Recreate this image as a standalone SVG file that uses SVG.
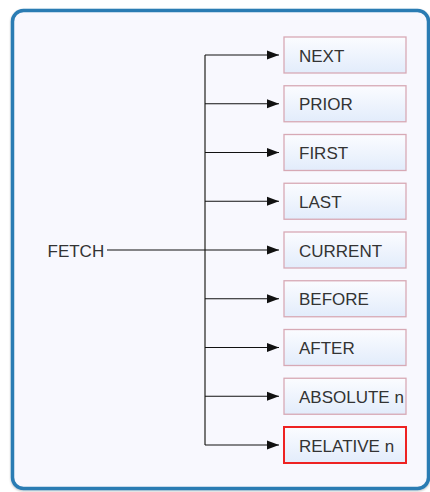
<svg xmlns="http://www.w3.org/2000/svg" width="430" height="492" viewBox="0 0 430 492">
  <style>
    .frame { fill: #f8f8fe; stroke: #2b7bb3; stroke-width: 3.5; }
    .box { fill: url(#boxFill); stroke: #d7a9b5; stroke-width: 1.3; }
    .box.sel { stroke: #ee2222; stroke-width: 2; }
    .lbl { font-family: "Liberation Sans", Arial, sans-serif; font-size: 17px; fill: #333333; }
    .trunk { stroke: #777777; stroke-width: 2; fill: none; }
    .branch { stroke: #111111; stroke-width: 1.2; fill: none; marker-end: url(#arrow); }
    .lead { stroke: #111111; stroke-width: 1.2; fill: none; }
  </style>
  <defs>
    <linearGradient id="boxFill" x1="0" y1="0" x2="0" y2="1">
      <stop offset="0" stop-color="#fbfcff"/>
      <stop offset="1" stop-color="#e2ecfb"/>
    </linearGradient>
    <marker id="arrow" viewBox="0 0 12 10" refX="12" refY="5" markerWidth="12" markerHeight="10" markerUnits="userSpaceOnUse" orient="auto">
      <path d="M0,0.5 L12,5 L0,9.5 Z" fill="#111111"/>
    </marker>
    <filter id="shadow" x="-5%" y="-5%" width="110%" height="110%">
      <feDropShadow dx="0" dy="1" stdDeviation="1" flood-color="#000" flood-opacity="0.25"/>
    </filter>
  </defs>

  <rect class="frame" x="12.5" y="10.5" width="416" height="478" rx="11" filter="url(#shadow)"/>

  <g id="connectors">
    <line class="trunk" x1="205" y1="55" x2="205" y2="445"/>
    <line class="lead" x1="107" y1="250" x2="205" y2="250"/>
    <line class="branch" x1="205" y1="55" x2="279" y2="55"/>
    <line class="branch" x1="205" y1="103.75" x2="279" y2="103.75"/>
    <line class="branch" x1="205" y1="152.5" x2="279" y2="152.5"/>
    <line class="branch" x1="205" y1="201.25" x2="279" y2="201.25"/>
    <line class="branch" x1="205" y1="250" x2="279" y2="250"/>
    <line class="branch" x1="205" y1="298.75" x2="279" y2="298.75"/>
    <line class="branch" x1="205" y1="347.5" x2="279" y2="347.5"/>
    <line class="branch" x1="205" y1="396.25" x2="279" y2="396.25"/>
    <line class="branch" x1="205" y1="445" x2="279" y2="445"/>
  </g>

  <g id="fetch">
    <text class="lbl" x="47.5" y="256.5">FETCH</text>
  </g>

  <g id="next">
    <rect class="box" x="284" y="37" width="122" height="36"/>
    <text class="lbl" x="299" y="61.5">NEXT</text>
  </g>
  <g id="prior">
    <rect class="box" x="284" y="85.75" width="122" height="36"/>
    <text class="lbl" x="299" y="110.25">PRIOR</text>
  </g>
  <g id="first">
    <rect class="box" x="284" y="134.5" width="122" height="36"/>
    <text class="lbl" x="299" y="159">FIRST</text>
  </g>
  <g id="last">
    <rect class="box" x="284" y="183.25" width="122" height="36"/>
    <text class="lbl" x="299" y="207.75">LAST</text>
  </g>
  <g id="current">
    <rect class="box" x="284" y="232" width="122" height="36"/>
    <text class="lbl" x="299" y="256.5">CURRENT</text>
  </g>
  <g id="before">
    <rect class="box" x="284" y="280.75" width="122" height="36"/>
    <text class="lbl" x="299" y="305.25">BEFORE</text>
  </g>
  <g id="after">
    <rect class="box" x="284" y="329.5" width="122" height="36"/>
    <text class="lbl" x="299" y="354">AFTER</text>
  </g>
  <g id="absolute">
    <rect class="box" x="284" y="378.25" width="122" height="36"/>
    <text class="lbl" x="299" y="402.75">ABSOLUTE n</text>
  </g>
  <g id="relative">
    <rect class="box sel" x="284" y="427" width="122" height="36"/>
    <text class="lbl" x="299" y="451.5">RELATIVE n</text>
  </g>
</svg>
